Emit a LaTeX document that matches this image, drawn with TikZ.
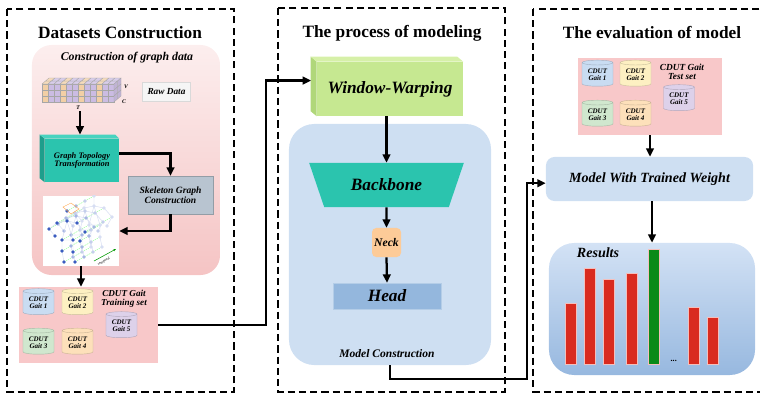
\documentclass[tikz,border=0pt]{standalone}
\usepackage{fontspec}
\setmainfont{Liberation Serif}
\usetikzlibrary{arrows.meta,shapes.geometric,calc}

\definecolor{pinktop}{HTML}{FCEEEE}
\definecolor{pinkbot}{HTML}{F5C4C4}
\definecolor{setpink}{HTML}{F8C8C9}
\definecolor{tealface}{HTML}{2BC4AE}
\definecolor{tealside}{HTML}{1E9E8C}
\definecolor{tealtop}{HTML}{48D3BF}
\definecolor{wwface}{HTML}{C6E891}
\definecolor{wwside}{HTML}{B0D77A}
\definecolor{wwtop}{HTML}{D6F0A8}
\definecolor{skelgray}{HTML}{B8C4D0}
\definecolor{modelblue}{HTML}{CEDFF2}
\definecolor{neckorange}{HTML}{FDCB98}
\definecolor{headblue}{HTML}{94B7DD}
\definecolor{restop}{HTML}{D3E2F5}
\definecolor{resbot}{HTML}{97B8DF}
\definecolor{gaitA}{HTML}{C9DCF2}
\definecolor{gaitB}{HTML}{FDF0C2}
\definecolor{gaitC}{HTML}{D0E7CE}
\definecolor{gaitD}{HTML}{FDE0BA}
\definecolor{gaitE}{HTML}{DDD1EA}
\definecolor{cubeA}{HTML}{F2CFA5}
\definecolor{cubeB}{HTML}{CBBCE3}
\definecolor{barred}{HTML}{D92B1F}
\definecolor{bargreen}{HTML}{0A8A18}
\definecolor{jointdark}{HTML}{3A5CC0}

\begin{document}
\begin{tikzpicture}[x=0.025cm,y=-0.025cm,
  panel/.style={draw, line width=1.6pt, dash pattern=on 5pt off 3pt},
  title/.style={font=\fontsize{12.3}{14}\selectfont\bfseries},
  lbl/.style={font=\fontsize{#1}{#1}\selectfont\bfseries\itshape, align=center},
  conn/.style={line width=1.6pt, -{Triangle[length=6pt,width=5.5pt]}},
  box/.style={draw=none, inner sep=0pt, align=center},
  db/.style={cylinder, shape border rotate=90, aspect=0.25, draw=#1!80!black, fill=#1,
    line width=0.3pt, minimum width=0.775cm, minimum height=0.65cm, inner sep=0pt, lbl=5},
  cube/.style={draw=gray!70, line width=0.2pt},
  bar/.style={draw=white!70!barred, line width=0.4pt}]
\useasboundingbox (0,0) rectangle (760,394);
\clip (0,0) rectangle (760,394);

% three stages
\draw[panel] (7,9) rectangle (234,392);
\draw[panel] (278,8) rectangle (505,392);
\draw[panel] (533,9) rectangle (775,392);
\node[title] (t1) at (120,33) {Datasets Construction};
\node[title] (t2) at (392,33) {The process of modeling};
\node[title] (t3) at (652,33) {The evaluation of model};

%% ---- datasets construction ----
\node[box, rounded corners=14pt, top color=pinktop, bottom color=pinkbot,
  minimum width=4.7cm, minimum height=5.75cm] (graphreg) at (126,160) {};
\node[lbl=8.4] (gdtitle) at (127,58) {Construction of graph data};

% raw tensor
\foreach \i in {0,...,11}{
  \pgfmathtruncatemacro\k{mod(\i,3)}
  \ifnum\k=0 \def\cubecol{cubeA}\else\def\cubecol{cubeB}\fi
  \foreach \j in {0,1,2}
    \draw[cube, fill=\cubecol] (42+6*\i,84+6*\j) rectangle ++(6,6);
  \draw[cube, fill=\cubecol!75!white] (42+6*\i,84) -- ++(6,0) -- ++(3.5,-3) -- ++(-6,0) -- cycle;
  \draw[cube, fill=\cubecol!75!white] (45.5+6*\i,81) -- ++(6,0) -- ++(3.5,-3) -- ++(-6,0) -- cycle;
}
\foreach \j in {0,1,2}{
  \draw[cube, fill=cubeB!85!gray] (114,84+6*\j) -- ++(3.5,-3) -- ++(0,6) -- ++(-3.5,3) -- cycle;
  \draw[cube, fill=cubeB!85!gray] (117.5,81+6*\j) -- ++(3.5,-3) -- ++(0,6) -- ++(-3.5,3) -- cycle;
}
\node[lbl=4] at (126,87) {V};
\node[lbl=4] at (124,102) {C};
\node[lbl=4] at (78,108) {T};
\coordinate (tensorbot) at (80,111);

\node[box, draw=gray!30, fill=gray!8, minimum width=1.2cm, minimum height=0.475cm,
  lbl=6.6] (raw) at (166.5,91.5) {Raw Data};

% graph topology block
\node[box, fill=tealface, minimum width=1.85cm, minimum height=1.075cm, lbl=6]
  (gtt) at (82,160.5) {Graph Topology\\Transformation};
\fill[tealside] (gtt.north west) -- ++(-5,-4) -- ($(gtt.south west)+(-5,-4)$) -- (gtt.south west) -- cycle;
\fill[tealtop] (gtt.north west) -- ++(-5,-4) -- ($(gtt.north east)+(-4,-4)$) -- (gtt.north east) -- cycle;

\node[box, draw=skelgray!80!black, line width=0.3pt, fill=skelgray, minimum width=2.125cm,
  minimum height=0.95cm, lbl=6.8] (skel) at (170.5,195) {Skeleton Graph\\Construction};

% skeleton sequence
\node[box, fill=white, minimum width=1.9cm, minimum height=1.75cm] (graphimg) at (81,231) {};
\begin{scope}
  \clip (graphimg.south west) rectangle (graphimg.north east);
  \foreach \p in {(67,211),(57,223),(49,229),(77,223),(85,232),(62,240),(73,240),(62,251),(73,252),(64,262),(75,262)}
    \draw[green!45!white, line width=0.3pt, dash pattern=on 1pt off 0.6pt] \p -- ++(27,-15);
  \foreach \t/\jc in {3/jointdark!20,2/jointdark!30,1/jointdark!45,0/jointdark}{
    \begin{scope}[shift={(9*\t,-5*\t)}]
      \draw[jointdark!22, line width=0.3pt]
        (67,211) -- (67,221) -- (57,223) -- (49,229) -- (55,236)
        (67,221) -- (77,223) -- (85,232) -- (80,241)
        (67,221) -- (62,240) -- (62,251) -- (64,262)
        (67,221) -- (73,240) -- (73,252) -- (75,262)
        (62,240) -- (73,240);
      \foreach \p in {(67,211),(67,221),(57,223),(49,229),(55,236),(77,223),(85,232),
          (80,241),(62,240),(62,251),(64,262),(73,240),(73,252),(75,262)}
        \fill[\jc] \p circle (1.9);
    \end{scope}
  }
  \draw[orange!70, line width=0.3pt] (63,207) -- (71,203) -- (79,209) -- (71,214) -- cycle;
  \draw[green!60!black, line width=0.4pt, -{Stealth[length=2pt]}] (94,261) -- (116,249);
  \node[font=\fontsize{2.6}{3}\selectfont, rotate=29, inner sep=0pt] at (104,261.5) {temporal};
\end{scope}

% training set
\node[box, fill=setpink, minimum width=3.475cm, minimum height=1.9cm] (trainset) at (88.5,325) {};
\node[lbl=6.5] (trainlbl) at (124,299) {CDUT Gait\\Training set};
\node[db=gaitA] (trg1) at (38.5,303) {CDUT\\Gait 1};
\node[db=gaitB] (trg2) at (77.5,303) {CDUT\\Gait 2};
\node[db=gaitC] (trg3) at (38.5,342.5) {CDUT\\Gait 3};
\node[db=gaitD] (trg4) at (77.5,342.5) {CDUT\\Gait 4};
\node[db=gaitE] (trg5) at (121.5,326) {CDUT\\Gait 5};

%% ---- modeling ----
\node[box, fill=wwface, minimum width=3.65cm, minimum height=1.35cm, lbl=12.3]
  (ww) at (390,89) {Window-Warping};
\fill[wwside] (ww.north west) -- ++(-6,-5) -- ($(ww.south west)+(-6,-5)$) -- (ww.south west) -- cycle;
\fill[wwtop] (ww.north west) -- ++(-6,-5) -- ($(ww.north east)+(-6,-5)$) -- (ww.north east) -- cycle;

\node[box, rounded corners=18pt, fill=modelblue, minimum width=5.05cm, minimum height=6.025cm]
  (modelreg) at (390,244.5) {};
\node[trapezium, shape border rotate=180, trapezium stretches=true, trapezium angle=55,
  fill=tealface, inner sep=0pt, minimum width=3.875cm, minimum height=1.1cm, lbl=12.3]
  (bb) at (386.5,185) {Backbone};
\node[box, rounded corners=3pt, fill=neckorange, minimum width=0.725cm, minimum height=0.725cm,
  lbl=8.3] (neck) at (386.5,242.5) {Neck};
\node[box, draw=headblue!70!white, line width=0.3pt, fill=headblue, minimum width=2.7cm,
  minimum height=0.65cm, lbl=12.3] (head) at (387,296) {Head};
\node[lbl=8.2] (mclbl) at (387,354) {Model Construction};

%% ---- evaluation ----
\node[box, fill=setpink, minimum width=3.6cm, minimum height=1.925cm] (testset) at (650,96.5) {};
\node[lbl=6.6] (testlbl) at (682,72) {CDUT Gait\\Test set};
\node[db=gaitA] (tst1) at (597.5,74.5) {CDUT\\Gait 1};
\node[db=gaitB] (tst2) at (635.5,74.5) {CDUT\\Gait 2};
\node[db=gaitC] (tst3) at (597.5,114.5) {CDUT\\Gait 3};
\node[db=gaitD] (tst4) at (635.5,114.5) {CDUT\\Gait 4};
\node[db=gaitE] (tst5) at (679,99) {CDUT\\Gait 5};

\node[box, rounded corners=6pt, fill=modelblue, minimum width=5.175cm, minimum height=1.1cm,
  lbl=10] (mwt) at (649.5,179) {Model With Trained Weight};

\node[box, rounded corners=18pt, top color=restop, bottom color=resbot,
  minimum width=5.15cm, minimum height=3.3cm] (results) at (652,309) {};
\node[lbl=10] (reslbl) at (598,253) {Results};
\foreach \xa/\h/\col in {565/303/barred,584/268/barred,603/279/barred,626/273/barred,
    648/249/bargreen,688/307/barred,707/317/barred}
  \draw[bar, fill=\col] (\xa,\h) rectangle ++(11,364-\h);
\node[lbl=6] (dots) at (674,361) {...};

%% ---- connectors ----
\coordinate (bendA) at (266,0);
\coordinate (bendB) at (527,379);
\draw[conn, shorten >=3pt] (tensorbot) -- (tensorbot |- gtt.north);
\draw[conn] ([yshift=5pt]gtt.east) -| (skel.north);
\draw[conn] (skel.south) |- (graphimg.east);
\draw[conn] (graphimg.south) -- (graphimg.south |- trainset.north);
\draw[conn, shorten >=4pt] (trainset.east) -- (trainset.east -| bendA) |- ([yshift=6pt]ww.west);
\draw[conn] (ww.south -| bb.north) -- (bb.north);
\draw[conn] (bb.south) -- (neck.north);
\draw[conn] (neck.south) -- (head.north);
\draw[conn] (modelreg.south) |- (bendB) |- ([yshift=-3pt]mwt.west);
\draw[conn] (testset.south) -- (testset.south |- mwt.north);
\draw[conn] (mwt.south -| results.north) -- (results.north);
\end{tikzpicture}
\end{document}
